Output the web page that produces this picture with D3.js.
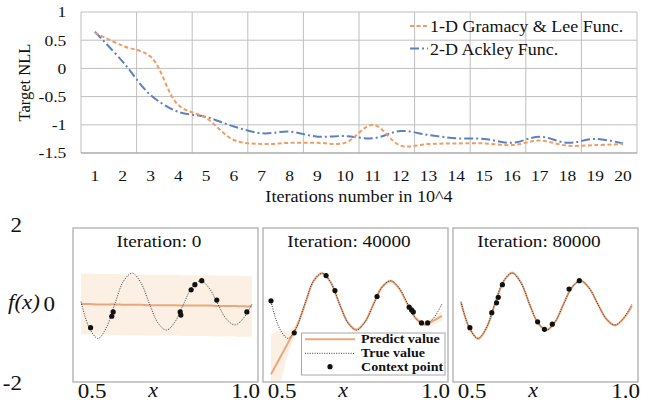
<!DOCTYPE html>
<html>
<head>
<meta charset="utf-8">
<script src="https://cdn.jsdelivr.net/npm/d3@7"></script>
<style>
  html, body { margin: 0; padding: 0; background: #fff; }
  svg { display: block; }
</style>
</head>
<body>
<svg id="chart" width="658" height="406"></svg>
<script>
// ---------------- data: top chart ----------------
const iterations = [1, 2, 3, 4, 5, 6, 7, 8, 9, 10, 11, 12, 13, 14, 15, 16, 17, 18, 19, 20];
const gramacyNLL = [0.63, 0.40, 0.21, -0.65, -0.88, -1.27, -1.34, -1.32, -1.32, -1.32, -1.00, -1.37, -1.34, -1.33, -1.33, -1.36, -1.28, -1.37, -1.36, -1.34];
const ackleyNLL  = [0.65, 0.12, -0.47, -0.77, -0.86, -1.03, -1.15, -1.12, -1.21, -1.20, -1.24, -1.11, -1.18, -1.24, -1.25, -1.32, -1.21, -1.32, -1.25, -1.33];
const topYTicks = [-1.5, -1, -0.5, 0, 0.5, 1];
const seriesNames = ["1-D Gramacy & Lee Func.", "2-D Ackley Func."];

// ---------------- data: bottom panels ----------------
const panelTitles = ["Iteration: 0", "Iteration: 40000", "Iteration: 80000"];
const xGrid = [0.5, 0.525, 0.55, 0.575, 0.6, 0.625, 0.65, 0.675, 0.7, 0.725, 0.75, 0.775, 0.8, 0.825, 0.85, 0.875, 0.9, 0.925, 0.95, 0.975, 1.0];
const trueValues = [0.06, -0.62, -0.87, -0.58, 0.03, 0.59, 0.78, 0.54, 0.01, -0.48, -0.66, -0.45, 0.00, 0.43, 0.59, 0.40, 0.00, -0.38, -0.53, -0.36, 0.00];
const pred0 = [0.00, 0.00, -0.01, -0.01, -0.01, -0.02, -0.02, -0.02, -0.03, -0.03, -0.03, -0.03, -0.04, -0.04, -0.04, -0.04, -0.05, -0.05, -0.05, -0.06, -0.06];
const std0  = [0.77, 0.77, 0.77, 0.77, 0.77, 0.77, 0.77, 0.77, 0.77, 0.77, 0.77, 0.77, 0.77, 0.77, 0.77, 0.77, 0.77, 0.77, 0.77, 0.77, 0.77];
const pred1 = [-1.78, -1.38, -0.98, -0.58, 0.01, 0.59, 0.78, 0.54, 0.01, -0.47, -0.65, -0.45, 0.00, 0.43, 0.58, 0.39, -0.02, -0.38, -0.50, -0.42, -0.30];
const std1  = [1.00, 0.70, 0.30, 0.10, 0.06, 0.05, 0.05, 0.05, 0.05, 0.05, 0.05, 0.05, 0.05, 0.05, 0.05, 0.05, 0.06, 0.07, 0.08, 0.10, 0.12];
const pred2 = [0.04, -0.61, -0.88, -0.60, 0.02, 0.58, 0.79, 0.55, 0.00, -0.48, -0.66, -0.46, 0.00, 0.43, 0.59, 0.40, 0.00, -0.38, -0.54, -0.37, -0.05];
const std2  = [0.04, 0.04, 0.04, 0.04, 0.04, 0.04, 0.04, 0.04, 0.04, 0.04, 0.04, 0.04, 0.04, 0.04, 0.04, 0.04, 0.04, 0.04, 0.04, 0.04, 0.04];
const ctx0X = [0.528, 0.590, 0.594, 0.790, 0.792, 0.822, 0.833, 0.853, 0.897, 0.985];
const ctx0Y = [-0.60, -0.31, -0.20, -0.20, -0.28, 0.36, 0.49, 0.59, 0.10, -0.20];
const ctx1X = [0.500, 0.568, 0.661, 0.687, 0.810, 0.904, 0.911, 0.916, 0.940, 0.958];
const ctx1Y = [0.08, -0.73, 0.72, 0.34, 0.19, -0.08, -0.15, -0.20, -0.48, -0.48];
const ctx2X = [0.526, 0.590, 0.604, 0.609, 0.621, 0.724, 0.744, 0.767, 0.816, 0.846];
const ctx2Y = [-0.60, -0.22, 0.03, 0.17, 0.49, -0.45, -0.64, -0.51, 0.38, 0.59];
const bottomYTicks = [-2, 0, 2];
const bottomXTicks = [0.5, 1.0];
const legendNames = ["Predict value", "True value", "Context point"];

// ---------------- drawing ----------------
const FONT = "'Liberation Serif', 'Times New Roman', serif";
const svg = d3.select("#chart");
svg.append("rect").attr("width", 658).attr("height", 406).attr("fill", "#fff");

const ORANGE = "#ef9d63", BLUE = "#5d80c0";
const STRETCH = 1.13;

function styleText(sel, size) {
  return sel.style("font-family", FONT).style("font-size", size + "px").style("fill", "#111");
}
function txt(parent, x, y, s, size, opts = {}) {
  const t = parent.append("text")
    .attr("transform", `translate(${x},${y}) scale(${opts.sx || STRETCH},1)`)
    .attr("text-anchor", opts.anchor || "start")
    .text(s);
  styleText(t, size);
  if (opts.italic) t.style("font-style", "italic");
  if (opts.bold) t.style("font-weight", "bold");
  return t;
}

// ===== top chart =====
const xTop = d3.scaleBand().domain(iterations).range([81, 637]);
const yTop = d3.scaleLinear().domain([-1.5, 1]).range([153, 12]);
const topG = svg.append("g");

topG.selectAll("line.hg").data(topYTicks.filter(d => d !== -1.5)).join("line")
  .attr("x1", 81).attr("x2", 637)
  .attr("y1", d => yTop(d)).attr("y2", d => yTop(d))
  .attr("stroke", "#bfbfbf").attr("stroke-width", 1);
const vIdx = d3.range(0, iterations.length + 1, 2);
topG.selectAll("line.vg").data(vIdx).join("line")
  .attr("x1", d => xTop.range()[0] + d * xTop.step()).attr("x2", d => xTop.range()[0] + d * xTop.step())
  .attr("y1", yTop(1)).attr("y2", yTop(-1.5))
  .attr("stroke", "#bfbfbf").attr("stroke-width", 1);
topG.append("line").attr("x1", 81).attr("x2", 637).attr("y1", yTop(-1.5)).attr("y2", yTop(-1.5))
  .attr("stroke", "#acacac").attr("stroke-width", 1.3);

const yAxTop = topG.append("g").attr("transform", "translate(81,0)")
  .call(d3.axisLeft(yTop).tickValues(topYTicks).tickSize(0).tickPadding(13).tickFormat(d => String(d)));
yAxTop.select(".domain").remove();
styleText(yAxTop.selectAll("text"), 15.5).attr("transform", `scale(${STRETCH},1)`);

const xAxTop = topG.append("g").attr("transform", `translate(0,${yTop(-1.5)})`)
  .call(d3.axisBottom(xTop).tickSize(0).tickPadding(17));
xAxTop.select(".domain").remove();
styleText(xAxTop.selectAll("text"), 15.5).attr("transform", `scale(${STRETCH},1)`);

txt(topG, 359, 202, "Iterations number in 10^4", 16.5, { anchor: "middle", sx: 1.1 });
styleText(topG.append("text")
  .attr("transform", "translate(30,82.5) rotate(-90)")
  .attr("text-anchor", "middle").text("Target NLL"), 16.5);

const lineTop = d3.line()
  .x((d, i) => xTop(iterations[i]) + xTop.bandwidth() / 2)
  .y(d => yTop(d))
  .curve(d3.curveCatmullRom.alpha(0.5));

topG.append("path").attr("d", lineTop(ackleyNLL)).attr("fill", "none")
  .attr("stroke", BLUE).attr("stroke-width", 2).attr("stroke-dasharray", "9,3,2,3");
topG.append("path").attr("d", lineTop(gramacyNLL)).attr("fill", "none")
  .attr("stroke", ORANGE).attr("stroke-width", 2).attr("stroke-dasharray", "4,2.5");

const legTop = [
  { name: seriesNames[0], color: ORANGE, dash: "4,2.5", y: 26 },
  { name: seriesNames[1], color: BLUE, dash: "9,3,2,3", y: 48.5 }
];
legTop.forEach(l => {
  topG.append("line").attr("x1", 410).attr("x2", 428).attr("y1", l.y).attr("y2", l.y)
    .attr("stroke", l.color).attr("stroke-width", 2).attr("stroke-dasharray", l.dash);
  txt(topG, 430, l.y + 6, l.name, 16.5, { sx: 1.09 });
});

// ===== bottom panels =====
const panelLefts = [73, 263, 453];
const PW = 185;
const xB = d3.scaleLinear().domain([0.5 - 8 / 342, 0.5 + (PW - 8) / 342]).range([0, PW]);
const yB = d3.scaleLinear().domain([-2, 2]).range([383, 225]);
const panelTop = 228, panelBottom = 382;

const preds = [pred0, pred1, pred2];
const stds = [std0, std1, std2];
const ctxX = [ctx0X, ctx1X, ctx2X];
const ctxY = [ctx0Y, ctx1Y, ctx2Y];

const defs = svg.append("defs");
const PRED = "#eaa77b", BAND = "#fcefe3";

panelLefts.forEach((left, p) => {
  const g = svg.append("g").attr("transform", `translate(${left},0)`);
  defs.append("clipPath").attr("id", "clip" + p).append("rect")
    .attr("x", 0).attr("y", panelTop).attr("width", PW).attr("height", panelBottom - panelTop);
  const inner = g.append("g").attr("clip-path", `url(#clip${p})`);

  const area = d3.area()
    .x((d, i) => xB(xGrid[i]))
    .y0((d, i) => yB(preds[p][i] - stds[p][i]))
    .y1((d, i) => yB(preds[p][i] + stds[p][i]))
    .curve(d3.curveCatmullRom.alpha(0.5));
  inner.append("path").attr("d", area(xGrid)).attr("fill", BAND).attr("opacity", 0.95);

  const lineP = d3.line().x((d, i) => xB(xGrid[i])).y(d => yB(d)).curve(d3.curveCatmullRom.alpha(0.5));
  inner.append("path").attr("d", lineP(preds[p])).attr("fill", "none")
    .attr("stroke", PRED).attr("stroke-width", 2);
  inner.append("path").attr("d", lineP(trueValues)).attr("fill", "none")
    .attr("stroke", "#333").attr("stroke-width", 1).attr("stroke-dasharray", "1,1.4");

  inner.selectAll("circle").data(ctxX[p]).join("circle")
    .attr("cx", d => xB(d)).attr("cy", (d, i) => yB(ctxY[p][i]))
    .attr("r", 2.6).attr("fill", "#111");

  g.append("rect").attr("x", 0).attr("y", panelTop).attr("width", PW).attr("height", panelBottom - panelTop)
    .attr("fill", "none").attr("stroke", "#b4b4b4").attr("stroke-width", 1.4);

  txt(g, 86, 246.5, panelTitles[p], 17.5, { anchor: "middle", sx: 1.1 });

  const xAx = g.append("g").attr("transform", `translate(0,${panelBottom})`)
    .call(d3.axisBottom(xB).tickValues(bottomXTicks).tickSize(0).tickPadding(1.5).tickFormat(d3.format(".1f")));
  xAx.select(".domain").remove();
  styleText(xAx.selectAll("text"), 20)
    .attr("transform", "scale(1.15,1)")
    .attr("x", d => (d === 0.5 ? 10.5 : -7) / 1.15);
  txt(g, 80, 397, "x", 20, { anchor: "middle", italic: true, sx: 1.1 });
});

const yAxB = svg.append("g").attr("transform", "translate(22,0)")
  .call(d3.axisLeft(yB).tickValues(bottomYTicks).tickSize(0).tickPadding(0).tickFormat(d => String(d)));
yAxB.select(".domain").remove();
styleText(yAxB.selectAll("text"), 20)
  .attr("transform", "scale(1.15,1)")
  .attr("x", d => d === 0 ? 33 / 1.15 : 0);
txt(svg, 8, 309, "f(x)", 20, { italic: true, sx: 1.15 });

const lg = svg.append("g");
lg.append("rect").attr("x", 301.5).attr("y", 333).attr("width", 143.5).attr("height", 42)
  .attr("fill", "#fff").attr("fill-opacity", 0.85).attr("stroke", "#a8a8a8").attr("stroke-width", 1);
lg.append("line").attr("x1", 305).attr("x2", 355).attr("y1", 339.3).attr("y2", 339.3)
  .attr("stroke", PRED).attr("stroke-width", 2);
lg.append("line").attr("x1", 305).attr("x2", 355).attr("y1", 353.3).attr("y2", 353.3)
  .attr("stroke", "#333").attr("stroke-width", 1).attr("stroke-dasharray", "1,1.4");
lg.append("circle").attr("cx", 330).attr("cy", 366.7).attr("r", 2.6).attr("fill", "#111");
legendNames.forEach((n, i) => txt(lg, 361, 342.5 + i * 14, n, 13, { bold: true, sx: 1.08 }));
</script>
</body>
</html>
